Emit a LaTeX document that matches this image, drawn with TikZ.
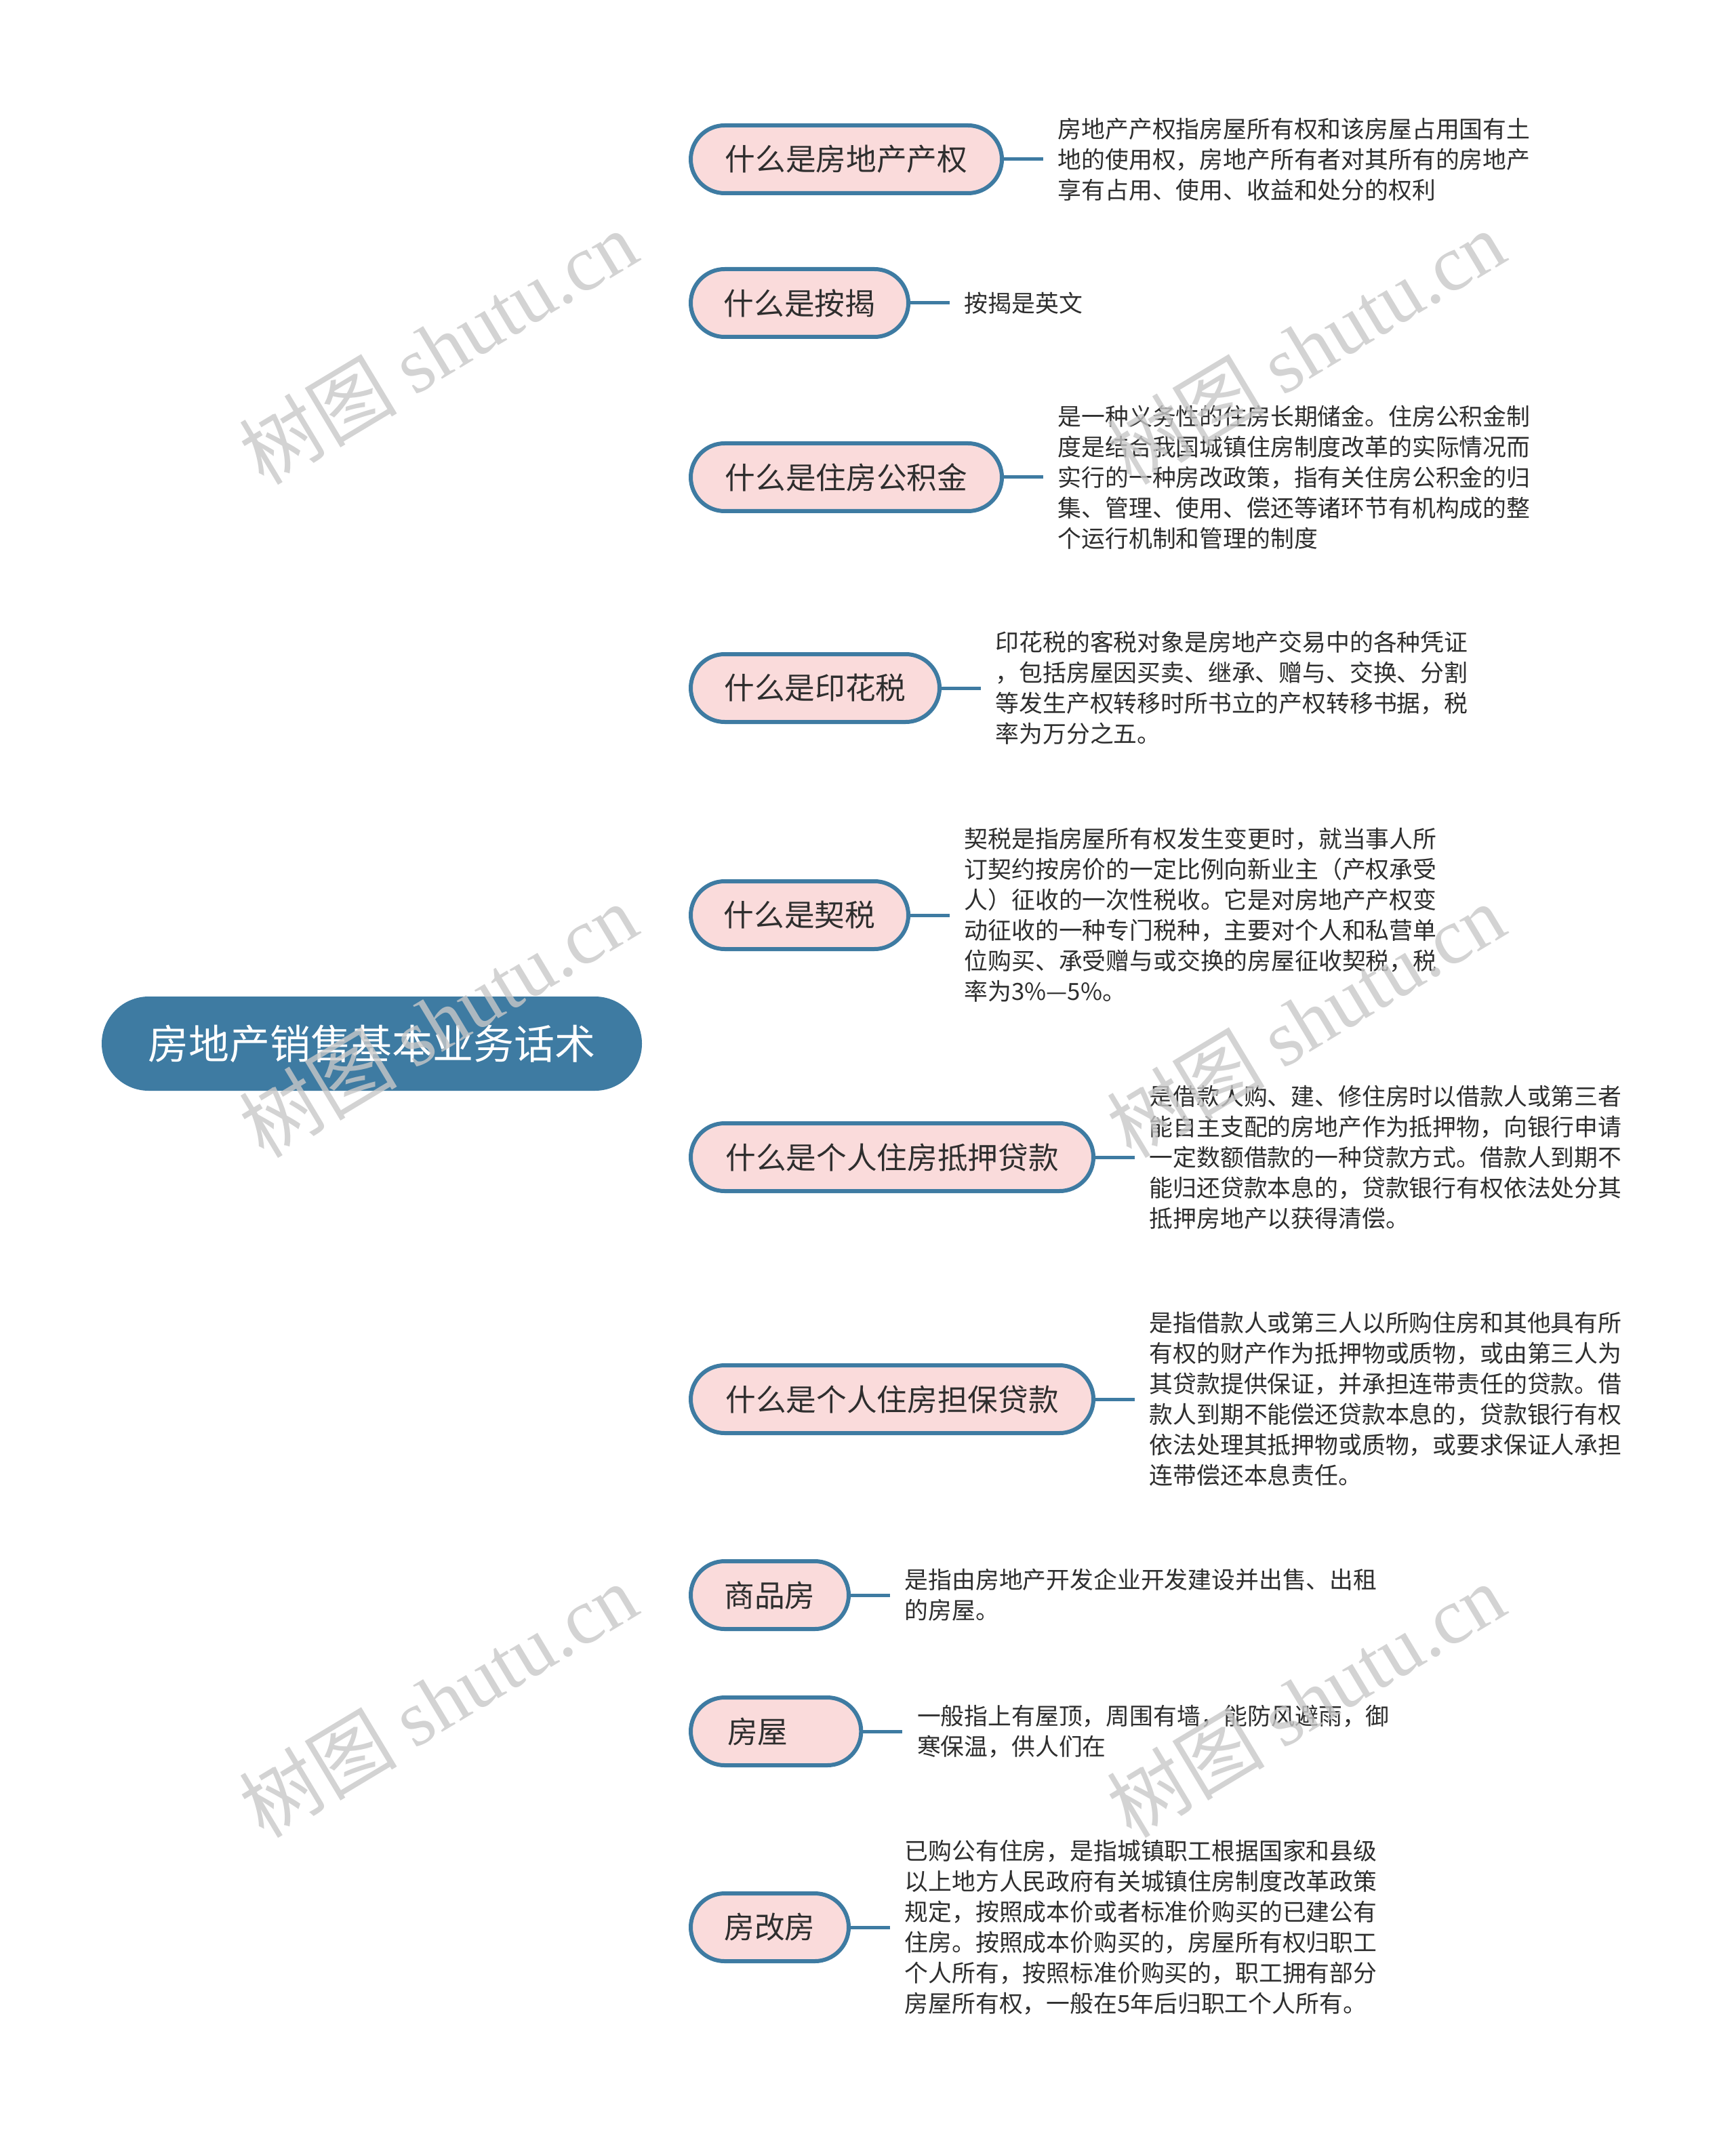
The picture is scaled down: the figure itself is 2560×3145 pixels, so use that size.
\documentclass[tikz,border=0pt]{standalone}
\usepackage{fontspec}
\setmainfont{Noto Sans CJK SC}
\newfontfamily\wmfont{Liberation Serif}
\usetikzlibrary{calc,backgrounds}
\definecolor{mapblue}{HTML}{3E7BA2}
\definecolor{childfill}{HTML}{FADBDB}
\definecolor{txt}{HTML}{2E2E2E}
\definecolor{wm}{HTML}{C8C8C8}
\begin{document}
\begin{tikzpicture}[x=0.3pt,y=-0.3pt,
  rootbox/.style={fill=mapblue, rounded corners=20.85pt, minimum width=239.1pt, minimum height=41.7pt, text=white, font=\fontsize{18pt}{22pt}\selectfont, inner sep=0pt},
  childbox/.style={draw=mapblue, line width=1.8pt, fill=childfill, rounded corners=15pt, minimum height=30pt, text=txt, font=\fontsize{13.4pt}{16pt}\selectfont, inner sep=0pt, anchor=west},
  desc/.style={anchor=west, align=left, inner sep=0pt, text=txt, font=\fontsize{10.45pt}{13.5pt}\selectfont},
  link/.style={draw=mapblue, line width=1.4pt},
  leaflink/.style={draw=mapblue, line width=1.5pt, shorten >=6.3pt},
  wmark/.style={text=wm, rotate=31, font=\fontsize{35pt}{38pt}\selectfont, opacity=0.8, inner sep=0pt}
]
\useasboundingbox[fill=white] (0,0) rectangle (2560,3145);

\node[rootbox] (root) at (548.5,1539.5) {房地产销售基本业务话术};

\node[childbox, minimum width=137.7pt] (c1) at (1016,235) {什么是房地产产权};
\node[childbox, minimum width=96.3pt] (c2) at (1016,447) {什么是按揭};
\node[childbox, minimum width=137.7pt] (c3) at (1016,704) {什么是住房公积金};
\node[childbox, minimum width=110.1pt] (c4) at (1016,1015) {什么是印花税};
\node[childbox, minimum width=96.3pt] (c5) at (1016,1350) {什么是契税};
\node[childbox, minimum width=178.2pt] (c6) at (1016,1707) {什么是个人住房抵押贷款};
\node[childbox, minimum width=178.2pt] (c7) at (1016,2064) {什么是个人住房担保贷款};
\node[childbox, minimum width=69.9pt] (c8) at (1016,2353) {商品房};
\node[childbox, text width=43pt, inner xsep=16.2pt, align=left] (c9) at (1016,2554) {房屋};
\node[childbox, minimum width=69.9pt] (c10) at (1016,2843) {房改房};

\node[desc] (d1) at ($(c1.east)+(79,0)$) {房地产产权指房屋所有权和该房屋占用国有土\\地的使用权，房地产所有者对其所有的房地产\\享有占用、使用、收益和处分的权利};
\node[desc] (d2) at ($(c2.east)+(79,0)$) {按揭是英文};
\node[desc] (d3) at ($(c3.east)+(79,0)$) {是一种义务性的住房长期储金。住房公积金制\\度是结合我国城镇住房制度改革的实际情况而\\实行的一种房改政策，指有关住房公积金的归\\集、管理、使用、偿还等诸环节有机构成的整\\个运行机制和管理的制度};
\node[desc] (d4) at ($(c4.east)+(79,0)$) {印花税的客税对象是房地产交易中的各种凭证\\，包括房屋因买卖、继承、赠与、交换、分割\\等发生产权转移时所书立的产权转移书据，税\\率为万分之五。};
\node[desc] (d5) at ($(c5.east)+(79,0)$) {契税是指房屋所有权发生变更时，就当事人所\\订契约按房价的一定比例向新业主（产权承受\\人）征收的一次性税收。它是对房地产产权变\\动征收的一种专门税种，主要对个人和私营单\\位购买、承受赠与或交换的房屋征收契税，税\\率为3\%—5\%。};
\node[desc] (d6) at ($(c6.east)+(79,0)$) {是借款人购、建、修住房时以借款人或第三者\\能自主支配的房地产作为抵押物，向银行申请\\一定数额借款的一种贷款方式。借款人到期不\\能归还贷款本息的，贷款银行有权依法处分其\\抵押房地产以获得清偿。};
\node[desc] (d7) at ($(c7.east)+(79,0)$) {是指借款人或第三人以所购住房和其他具有所\\有权的财产作为抵押物或质物，或由第三人为\\其贷款提供保证，并承担连带责任的贷款。借\\款人到期不能偿还贷款本息的，贷款银行有权\\依法处理其抵押物或质物，或要求保证人承担\\连带偿还本息责任。};
\node[desc] (d8) at ($(c8.east)+(79,0)$) {是指由房地产开发企业开发建设并出售、出租\\的房屋。};
\node[desc] (d9) at ($(c9.east)+(79,0)$) {一般指上有屋顶，周围有墙，能防风避雨，御\\寒保温，供人们在};
\node[desc] (d10) at ($(c10.east)+(79,0)$) {已购公有住房，是指城镇职工根据国家和县级\\以上地方人民政府有关城镇住房制度改革政策\\规定，按照成本价或者标准价购买的已建公有\\住房。按照成本价购买的，房屋所有权归职工\\个人所有，按照标准价购买的，职工拥有部分\\房屋所有权，一般在5年后归职工个人所有。};

\begin{pgfonlayer}{background}
\foreach \i in {1,...,10} {
  \coordinate (k\i) at (root.center |- c\i.west);
  \draw[link] (root.center) .. controls ($(root.center)!0.6667!(k\i)$) and ($(c\i.west)!0.6667!(k\i)$) .. (c\i.west);
}
\end{pgfonlayer}

\foreach \i in {1,...,10} {
  \draw[leaflink] (c\i.east) -- (d\i.west);
}

\node[wmark] (w1) at (646,512) {树图 {\wmfont shutu.cn}};
\node[wmark] (w2) at (1926,512) {树图 {\wmfont shutu.cn}};
\node[wmark] (w3) at (646,1505) {树图 {\wmfont shutu.cn}};
\node[wmark] (w4) at (1926,1505) {树图 {\wmfont shutu.cn}};
\node[wmark] (w5) at (646,2508) {树图 {\wmfont shutu.cn}};
\node[wmark] (w6) at (1926,2508) {树图 {\wmfont shutu.cn}};
\end{tikzpicture}
\end{document}
